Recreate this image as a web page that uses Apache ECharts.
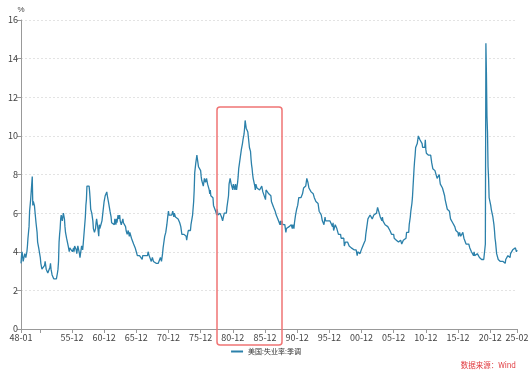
<!DOCTYPE html>
<html>
<head>
<meta charset="utf-8">
<script src="https://cdn.jsdelivr.net/npm/echarts@6/dist/echarts.min.js"></script>
<style>html,body{margin:0;padding:0;background:#fff}#c{width:532px;height:374px}</style>
</head>
<body>
<div id="c"></div>
<script>
// US unemployment rate (seasonally adjusted), monthly, %
const u1940s = [
3.4,3.8,4.0,3.9,3.5,3.6,3.6,3.9,3.8,3.7,3.8,4.0,
4.3,4.7,5.0,5.3,6.1,6.2,6.7,6.8,6.6,7.9,6.4,6.6];
const u1950s = [
6.5,6.4,6.3,5.8,5.5,5.4,5.0,4.5,4.4,4.2,4.2,4.3,
3.7,3.4,3.4,3.1,3.0,3.2,3.1,3.1,3.3,3.5,3.5,3.1,
3.2,3.1,2.9,2.9,3.0,3.0,3.2,3.4,3.1,3.0,2.8,2.7,
2.9,2.6,2.6,2.7,2.5,2.5,2.6,2.7,2.9,3.1,3.5,4.5,
4.9,5.2,5.7,5.9,5.9,5.6,5.8,6.0,6.1,5.7,5.3,5.0,
4.9,4.7,4.6,4.7,4.3,4.2,4.0,4.2,4.1,4.3,4.2,4.2,
4.0,3.9,4.2,4.0,4.3,4.3,4.4,4.1,3.9,3.9,4.3,4.2,
4.2,3.9,3.7,3.9,4.1,4.3,4.2,4.1,4.4,4.5,5.1,5.2,
5.8,6.4,6.7,7.4,7.4,7.3,7.5,7.4,7.1,6.7,6.2,6.2,
6.0,5.9,5.6,5.2,5.1,5.0,5.1,5.2,5.5,5.7,5.8,5.3];
const u1960s = [
5.2,4.8,5.4,5.2,5.1,5.4,5.5,5.6,5.5,6.1,6.1,6.6,
6.6,6.9,6.9,7.0,7.1,6.9,7.0,6.6,6.7,6.5,6.1,6.0,
5.8,5.5,5.6,5.6,5.5,5.5,5.4,5.7,5.6,5.4,5.7,5.5,
5.7,5.9,5.7,5.7,5.9,5.6,5.6,5.4,5.5,5.5,5.7,5.5,
5.6,5.4,5.4,5.3,5.1,5.2,4.9,5.0,5.1,5.1,4.8,5.0,
4.9,5.1,4.7,4.8,4.6,4.6,4.4,4.4,4.3,4.2,4.1,4.0,
4.0,3.8,3.8,3.8,3.9,3.8,3.8,3.8,3.7,3.7,3.6,3.8,
3.9,3.8,3.8,3.8,3.8,3.9,3.8,3.8,3.8,4.0,3.9,3.8,
3.7,3.8,3.7,3.5,3.5,3.7,3.7,3.5,3.4,3.4,3.4,3.4,
3.4,3.4,3.4,3.4,3.4,3.5,3.5,3.5,3.7,3.7,3.5,3.5];
const u1970s = [
3.9,4.2,4.4,4.6,4.8,4.9,5.0,5.1,5.4,5.5,5.9,6.1,
5.9,5.9,6.0,5.9,5.9,5.9,6.0,6.1,6.0,5.8,6.0,6.0,
5.8,5.7,5.8,5.7,5.7,5.7,5.6,5.6,5.5,5.6,5.3,5.2,
4.9,5.0,4.9,5.0,4.9,4.9,4.8,4.8,4.8,4.6,4.8,4.9,
5.1,5.2,5.1,5.1,5.1,5.4,5.5,5.5,5.9,6.0,6.6,7.2,
8.1,8.1,8.6,8.8,9.0,8.8,8.6,8.4,8.4,8.4,8.3,8.2,
7.9,7.7,7.6,7.7,7.4,7.6,7.8,7.8,7.6,7.7,7.8,7.8,
7.5,7.6,7.4,7.2,7.0,7.2,6.9,7.0,6.8,6.8,6.8,6.4,
6.4,6.3,6.3,6.1,6.0,5.9,6.2,5.9,6.0,5.8,5.9,6.0,
5.9,5.9,5.8,5.8,5.6,5.7,5.7,6.0,5.9,6.0,5.9,6.0];
const u1980s = [
6.3,6.3,6.3,6.9,7.5,7.6,7.8,7.7,7.5,7.5,7.5,7.2,
7.5,7.4,7.4,7.2,7.5,7.5,7.2,7.4,7.6,7.9,8.3,8.5,
8.6,8.9,9.0,9.3,9.4,9.6,9.8,9.8,10.1,10.4,10.8,10.8,
10.4,10.4,10.3,10.2,10.1,10.1,9.4,9.5,9.2,8.8,8.5,8.3,
8.0,7.8,7.8,7.7,7.4,7.2,7.5,7.5,7.3,7.4,7.2,7.3,
7.3,7.2,7.2,7.3,7.2,7.4,7.4,7.1,7.1,7.1,7.0,7.0,
6.7,7.2,7.2,7.1,7.2,7.2,7.0,6.9,7.0,7.0,6.9,6.6,
6.6,6.6,6.6,6.3,6.3,6.2,6.1,6.0,5.9,6.0,5.8,5.7,
5.7,5.7,5.7,5.4,5.6,5.4,5.4,5.6,5.4,5.4,5.3,5.3,
5.4,5.2,5.0,5.2,5.2,5.3,5.2,5.2,5.3,5.3,5.4,5.4];
const u1990s = [
5.4,5.3,5.2,5.4,5.4,5.2,5.5,5.7,5.9,5.9,6.2,6.3,
6.4,6.6,6.8,6.7,6.9,6.9,6.8,6.9,6.9,7.0,7.0,7.3,
7.3,7.4,7.4,7.4,7.6,7.8,7.7,7.6,7.6,7.3,7.4,7.4,
7.3,7.1,7.0,7.1,7.1,7.0,6.9,6.8,6.7,6.8,6.6,6.5,
6.6,6.6,6.5,6.4,6.1,6.1,6.1,6.0,5.9,5.8,5.6,5.5,
5.6,5.4,5.4,5.8,5.6,5.6,5.7,5.7,5.6,5.5,5.6,5.6,
5.6,5.5,5.5,5.6,5.6,5.3,5.5,5.1,5.2,5.2,5.4,5.4,
5.3,5.2,5.2,5.1,4.9,5.0,4.9,4.8,4.9,4.7,4.6,4.7,
4.6,4.6,4.7,4.3,4.4,4.5,4.5,4.5,4.6,4.5,4.4,4.4,
4.3,4.4,4.2,4.3,4.2,4.3,4.3,4.2,4.2,4.1,4.1,4.0];
const u2000s = [
4.0,4.1,4.0,3.8,4.0,4.0,4.0,4.1,3.9,3.9,3.9,3.9,
4.2,4.2,4.3,4.4,4.3,4.5,4.6,4.9,5.0,5.3,5.5,5.7,
5.7,5.7,5.7,5.9,5.8,5.8,5.8,5.7,5.7,5.7,5.9,6.0,
5.8,5.9,5.9,6.0,6.1,6.3,6.2,6.1,6.1,6.0,5.8,5.7,
5.7,5.6,5.8,5.6,5.6,5.6,5.5,5.4,5.4,5.5,5.4,5.4,
5.3,5.4,5.2,5.2,5.1,5.0,5.0,4.9,5.0,5.0,5.0,4.9,
4.7,4.8,4.7,4.7,4.6,4.6,4.7,4.7,4.5,4.4,4.5,4.4,
4.6,4.5,4.4,4.5,4.4,4.6,4.7,4.6,4.7,4.7,4.7,5.0,
5.0,4.9,5.1,5.0,5.4,5.6,5.8,6.1,6.1,6.5,6.8,7.3,
7.8,8.3,8.7,9.0,9.4,9.5,9.5,9.6,9.8,10.0,9.9,9.9];
const u2010s = [
9.8,9.8,9.9,9.9,9.6,9.4,9.4,9.5,9.5,9.4,9.8,9.3,
9.1,9.0,9.0,9.1,9.0,9.1,9.0,9.0,9.0,8.8,8.6,8.5,
8.3,8.3,8.2,8.2,8.2,8.2,8.2,8.1,7.8,7.8,7.7,7.9,
8.0,7.7,7.5,7.6,7.5,7.5,7.3,7.2,7.2,7.2,6.9,6.7,
6.6,6.7,6.7,6.2,6.3,6.1,6.2,6.1,5.9,5.7,5.8,5.6,
5.7,5.5,5.4,5.4,5.6,5.3,5.2,5.1,5.0,5.0,5.1,5.0,
4.8,4.9,5.0,5.1,4.8,4.9,4.8,4.9,5.0,4.9,4.7,4.7,
4.7,4.6,4.4,4.4,4.4,4.3,4.3,4.4,4.3,4.2,4.2,4.1,
4.0,4.1,4.0,4.0,3.8,4.0,3.8,3.8,3.7,3.8,3.8,3.9,
4.0,3.8,3.8,3.7,3.6,3.6,3.7,3.6,3.5,3.6,3.6,3.6];
const u2020s = [
3.5,3.5,4.4,14.8,13.2,11.0,10.2,8.4,7.8,6.8,6.7,6.7,
6.4,6.2,6.1,6.1,5.8,5.9,5.4,5.1,4.7,4.5,4.2,3.9,
4.0,3.8,3.6,3.7,3.6,3.6,3.5,3.6,3.5,3.6,3.6,3.5,
3.5,3.6,3.5,3.4,3.6,3.6,3.5,3.7,3.8,3.9,3.7,3.8,
3.7,3.9,3.9,3.9,4.0,4.1,4.2,4.2,4.1,4.1,4.2,4.1,
4.0,4.1];

const seriesName = '美国:失业率:季调';
const startYear = 1948;
const values = [].concat(u1940s, u1950s, u1960s, u1970s, u1980s, u1990s, u2000s, u2010s, u2020s);
const categories = values.map((_, i) => {
  const y = (startYear + Math.floor(i / 12)) % 100;
  const m = i % 12 + 1;
  return String(y).padStart(2, '0') + '-' + String(m).padStart(2, '0');
});
const lastIdx = categories.length - 1;

const chart = echarts.init(document.getElementById('c'));
const textColor = '#444';
chart.setOption({
  animation: false,
  grid: { left: 21, right: 15, top: 20, bottom: 45, containLabel: false },
  legend: {
    bottom: 14, left: 'center',
    itemWidth: 12, itemHeight: 2, itemGap: 4,
    icon: 'rect',
    textStyle: { fontSize: 7, color: '#333', fontFamily: 'Noto Sans CJK SC' },
    data: [seriesName]
  },
  xAxis: {
    type: 'category',
    boundaryGap: false,
    data: categories,
    axisLine: { lineStyle: { color: '#999', width: 1 } },
    axisTick: {
      show: true, length: 4, lineStyle: { color: '#999' },
      interval: (i) => i === 0 || i === lastIdx || (i >= 35 && (i - 35) % 60 === 0)
    },
    axisLabel: {
      fontSize: 9, color: textColor, margin: 4, fontFamily: 'Noto Sans CJK SC',
      interval: (i) => i === 0 || i === lastIdx || (i >= 95 && (i - 35) % 60 === 0 && i < lastIdx - 20)
    },
    splitLine: { show: false }
  },
  yAxis: {
    type: 'value',
    min: 0, max: 16, interval: 2,
    name: '%',
    nameGap: 6,
    nameTextStyle: { fontSize: 8, color: textColor, align: 'center' },
    axisLine: { show: true, lineStyle: { color: '#999', width: 1 } },
    axisTick: { show: true, length: 4, lineStyle: { color: '#999' } },
    axisLabel: { fontSize: 9, color: textColor, margin: 3, fontFamily: 'Noto Sans CJK SC' },
    splitLine: { show: true, lineStyle: { color: '#e3e3e3', type: [2, 2], width: 1 } }
  },
  series: [{
    name: seriesName,
    type: 'line',
    data: values,
    showSymbol: false,
    symbol: 'none',
    lineStyle: { color: '#2b80aa', width: 1.3 },
    itemStyle: { color: '#2b80aa' }
  }],
  graphic: [
    {
      type: 'rect',
      shape: { x: 217, y: 107, width: 65, height: 238, r: 3 },
      style: { fill: 'none', stroke: '#f07474', lineWidth: 1.5 },
      z: 100
    },
    {
      type: 'text',
      right: 16, bottom: 5,
      style: { text: '数据来源：Wind', fill: '#e0393e', fontSize: 7.5, fontFamily: 'Noto Sans CJK SC' }
    }
  ]
});
</script>
</body>
</html>
